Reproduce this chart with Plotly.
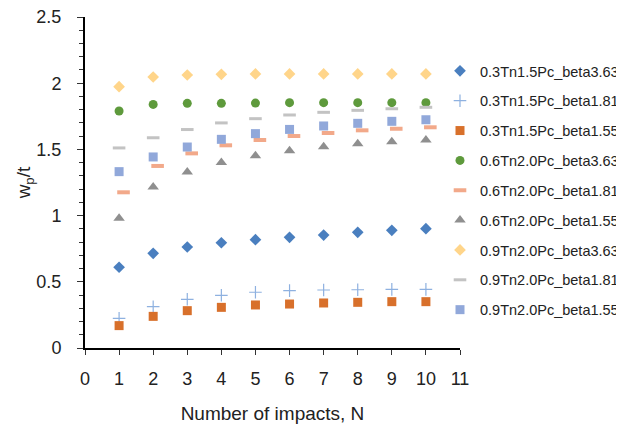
import plotly.graph_objects as go

N = [1, 2, 3, 4, 5, 6, 7, 8, 9, 10]
N_shift = [1.13, 2.13, 3.13, 4.13, 5.13, 6.13, 7.13, 8.13, 9.13, 10.13]

s_03_363 = [0.61, 0.715, 0.763, 0.795, 0.818, 0.836, 0.853, 0.874, 0.889, 0.901]
s_03_181 = [0.224, 0.312, 0.368, 0.398, 0.421, 0.433, 0.438, 0.44, 0.443, 0.443]
s_03_155 = [0.169, 0.239, 0.282, 0.307, 0.325, 0.332, 0.34, 0.345, 0.35, 0.35]
s_06_363 = [1.79, 1.84, 1.848, 1.848, 1.85, 1.853, 1.853, 1.853, 1.853, 1.853]
s_06_181 = [1.176, 1.375, 1.47, 1.531, 1.571, 1.601, 1.624, 1.644, 1.656, 1.667]
s_06_155 = [0.98, 1.216, 1.329, 1.402, 1.452, 1.49, 1.52, 1.543, 1.558, 1.571]
s_09_363 = [1.974, 2.047, 2.062, 2.067, 2.07, 2.07, 2.07, 2.07, 2.07, 2.07]
s_09_181 = [1.511, 1.588, 1.65, 1.70, 1.732, 1.76, 1.78, 1.795, 1.807, 1.818]
s_09_155 = [1.332, 1.443, 1.518, 1.576, 1.619, 1.651, 1.677, 1.697, 1.712, 1.724]

names = ["0.3Tn1.5Pc_beta3.63", "0.3Tn1.5Pc_beta1.81", "0.3Tn1.5Pc_beta1.55",
         "0.6Tn2.0Pc_beta3.63", "0.6Tn2.0Pc_beta1.81", "0.6Tn2.0Pc_beta1.55",
         "0.9Tn2.0Pc_beta3.63", "0.9Tn2.0Pc_beta1.81", "0.9Tn2.0Pc_beta1.55"]

series = [
    (N, s_03_363, dict(symbol="diamond", size=9, color="#4A7FBF")),
    (N, s_03_181, dict(symbol="cross-thin", size=9, color="#8EB1E0", line=dict(color="#8EB1E0", width=1.2))),
    (N, s_03_155, dict(symbol="square", size=9, color="#D8702B")),
    (N, s_06_363, dict(symbol="circle", size=9, color="#5E9A3C")),
    (N_shift, s_06_181, dict(symbol="line-ew", size=9, color="#F2A98A", line=dict(color="#F2A98A", width=4))),
    (N, s_06_155, dict(symbol="triangle-up", size=10, color="#8F8F8F")),
    (N, s_09_363, dict(symbol="diamond", size=9, color="#FFD58A")),
    (N, s_09_181, dict(symbol="line-ew", size=9, color="#C3C3C3", line=dict(color="#C3C3C3", width=3))),
    (N, s_09_155, dict(symbol="square", size=9, color="#91A8DA")),
]

fig = go.Figure()
for i, (xs, ys, mk) in enumerate(series):
    fig.add_trace(go.Scatter(x=xs, y=ys, mode="markers", name=names[i], marker=mk,
                             legendgroup=f"g{i}"))

# page body adds an 8px margin; figure is sized to fit the 624x427 window
fig.update_layout(
    width=616, height=419,
    margin=dict(l=77, r=164, t=9, b=79, autoexpand=False),
    paper_bgcolor="white", plot_bgcolor="white",
    font=dict(family="Liberation Sans, Arial, sans-serif", color="#222"),
    legend=dict(xref="container", x=1.0, xanchor="right",
                yref="container", y=0.888, yanchor="top", maxheight=400,
                font=dict(size=14.5, color="#222"), tracegroupgap=8,
                itemwidth=30, bgcolor="rgba(0,0,0,0)"),
    xaxis=dict(range=[0, 11], tickmode="linear", tick0=0, dtick=1,
               showgrid=False, zeroline=False, showline=True, linecolor="black", linewidth=2,
               ticks="outside", ticklen=5, tickcolor="#333", tickwidth=1,
               tickfont=dict(size=18), ticklabelstandoff=8, ticklabeloverflow="allow",
               title=dict(text="Number of impacts, N", font=dict(size=19), standoff=19)),
    yaxis=dict(range=[0, 2.5], tickmode="linear", tick0=0, dtick=0.5,
               showgrid=False, zeroline=False, showline=True, linecolor="black", linewidth=2,
               ticks="outside", ticklen=6, tickcolor="#333", tickwidth=1,
               minor=dict(dtick=0.1, ticks="outside", ticklen=4, tickcolor="#333", tickwidth=1),
               tickfont=dict(size=18), ticklabelstandoff=12, ticklabeloverflow="allow",
               title=dict(text="w<sub>p</sub>/t", font=dict(size=19), standoff=1)),
)

fig.write_html("out.html")
